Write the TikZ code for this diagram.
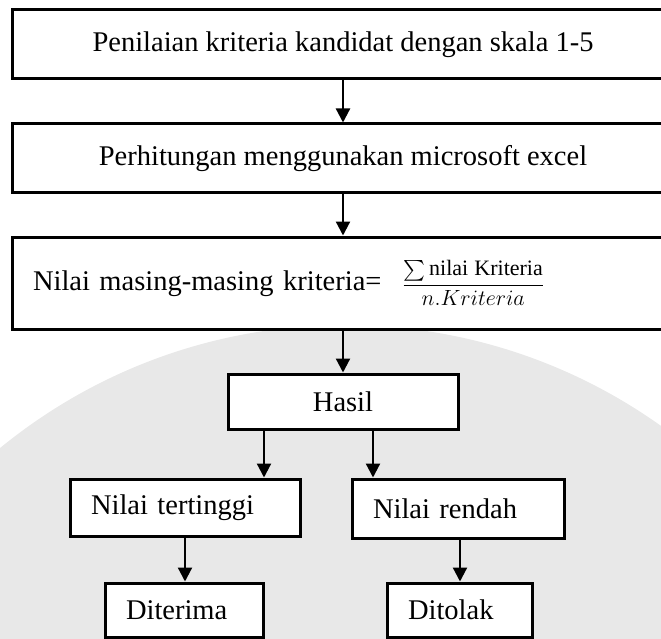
\documentclass[tikz,border=0pt]{standalone}
\usepackage{fix-cm}
\usepackage{amsmath}
\usepackage{fontspec}
\setmainfont{Liberation Serif}
\usetikzlibrary{arrows.meta}
\begin{document}
\begin{tikzpicture}[x=1pt,y=-1pt,
  font=\fontsize{28.5}{34}\selectfont,
  box/.style={draw=black, line width=3pt, fill=white, rectangle,
    inner ysep=0pt, inner xsep=0pt, align=center},
  lbox/.style={box, align=left, inner xsep=21pt},
  arr/.style={-{Triangle[width=14pt,length=14pt]}, line width=2.2pt},
  bgdisc/.style={fill=gray!18}
]
\useasboundingbox (0,0) rectangle (661,639);
\clip (0,0) rectangle (661,639);

% faint background disc
\fill[bgdisc] (345,870) circle [radius=545pt];

% process boxes
\node[box, minimum width=662pt, minimum height=69pt] (b1) at (343,44.5)
  {Penilaian kriteria kandidat dengan skala 1-5};
\node[box, minimum width=662pt, minimum height=69pt] (b2) at (343,158.5)
  {Perhitungan menggunakan microsoft excel};
\node[lbox, text width=620pt, minimum height=92pt] (b3) at (343,283)
  {Nilai masing-masing kriteria=\hspace{21pt}{\fontsize{22}{26}\selectfont
   $\dfrac{\textstyle\sum\mathrm{nilai}\;\mathrm{Kriteria}}{n.Kriteria}$}};
\node[box, minimum width=230pt, minimum height=55pt] (hasil) at (343,401.5) {Hasil};
\node[lbox, text width=188pt, minimum height=57pt] (tinggi) at (185,507.5) {Nilai tertinggi};
\node[lbox, text width=170pt, minimum height=59pt] (rendah) at (458,508.5) {Nilai rendah};
\node[lbox, text width=116pt, minimum height=54pt] (terima) at (184,610) {Diterima};
\node[lbox, text width=103pt, minimum height=54pt] (tolak) at (459.5,610) {Ditolak};

% connectors
\draw[arr] (b1) -- (b2);
\draw[arr] (b2) -- (b3);
\draw[arr] (b3) -- (hasil);
\draw[arr] ([xshift=-79pt]hasil.south) -- ([xshift=79pt]tinggi.north);
\draw[arr] ([xshift=30pt]hasil.south) -- ([xshift=-85pt]rendah.north);
\draw[arr] (tinggi.south) -- (tinggi.south |- terima.north);
\draw[arr] ([xshift=2pt]rendah.south) -- ([xshift=2pt]rendah.south |- tolak.north);
\end{tikzpicture}
\end{document}
